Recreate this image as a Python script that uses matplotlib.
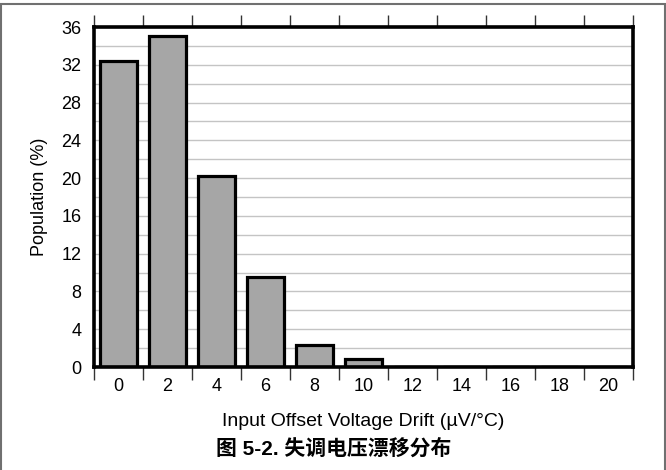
import matplotlib
matplotlib.use("Agg")
import matplotlib.pyplot as plt
from matplotlib.patches import Rectangle
import numpy as np

# drift bins (uV/C) and population share (%)
drift = [0, 2, 4, 6, 8, 10, 12, 14, 16, 18, 20]
population = [32.4, 35.1, 20.2, 9.5, 2.3, 0.8, 0, 0, 0, 0, 0]
y_ticks = [0, 4, 8, 12, 16, 20, 24, 28, 32, 36]

plt.rcParams['font.family'] = ['Liberation Sans', 'DejaVu Sans']

W, H = 666, 470
fig = plt.figure(figsize=(6.66, 4.70), dpi=100)
ax = fig.add_axes([94 / W, 1 - 367 / H, (633 - 94) / W, (367 - 27) / H])

pos = np.arange(len(drift))
ax.bar(pos, population, width=0.74, color='#a6a6a6', edgecolor='black',
       linewidth=2.3, zorder=3)

ax.set_xlim(-0.5, len(drift) - 0.5)
ax.set_ylim(0, 36)

# labels at bin centres, tick marks at bin boundaries
ax.set_xticks(pos)
ax.set_xticklabels([str(d) for d in drift], fontsize=13)
ax.tick_params(axis='x', which='major', length=0, pad=8)
ax.set_xticks(np.arange(-0.5, len(drift)), minor=True)
ax.tick_params(axis='x', which='minor', direction='out', length=9, width=1,
               color='#333333', top=True, bottom=True)

ax.set_yticks(y_ticks)
ax.set_yticklabels([str(v) for v in y_ticks], fontsize=13)
ax.tick_params(axis='y', which='major', length=0, pad=9)
ax.set_yticks(np.arange(0, 37, 2), minor=True)
ax.tick_params(axis='y', which='minor', length=0)
ax.grid(axis='y', which='both', color='#c4c4c4', linewidth=1, zorder=0)

for s in ax.spines.values():
    s.set_linewidth(2.6)
    s.set_zorder(4)

fig.text(39 / W, 1 - 197 / H, 'Population (%)', rotation=90, ha='center',
         va='center', fontsize=13)
fig.text(363.5 / W, 1 - 422 / H, 'Input Offset Voltage Drift (µV/°C)',
         ha='center', va='center', fontsize=14)
fig.text(334 / W, 1 - 449 / H, '图 5-2. 失调电压漂移分布', ha='center', va='center',
         fontsize=15, fontweight='bold',
         family=['Liberation Sans', 'Noto Sans CJK SC'])

# grey frame round the figure
fig.patches.append(Rectangle((0.5 / W, -0.01), 664 / W, 1 - 4 / H + 0.01,
                             transform=fig.transFigure, fill=False,
                             edgecolor='#707070', linewidth=1.5))

fig.savefig('out.png', dpi=100)
